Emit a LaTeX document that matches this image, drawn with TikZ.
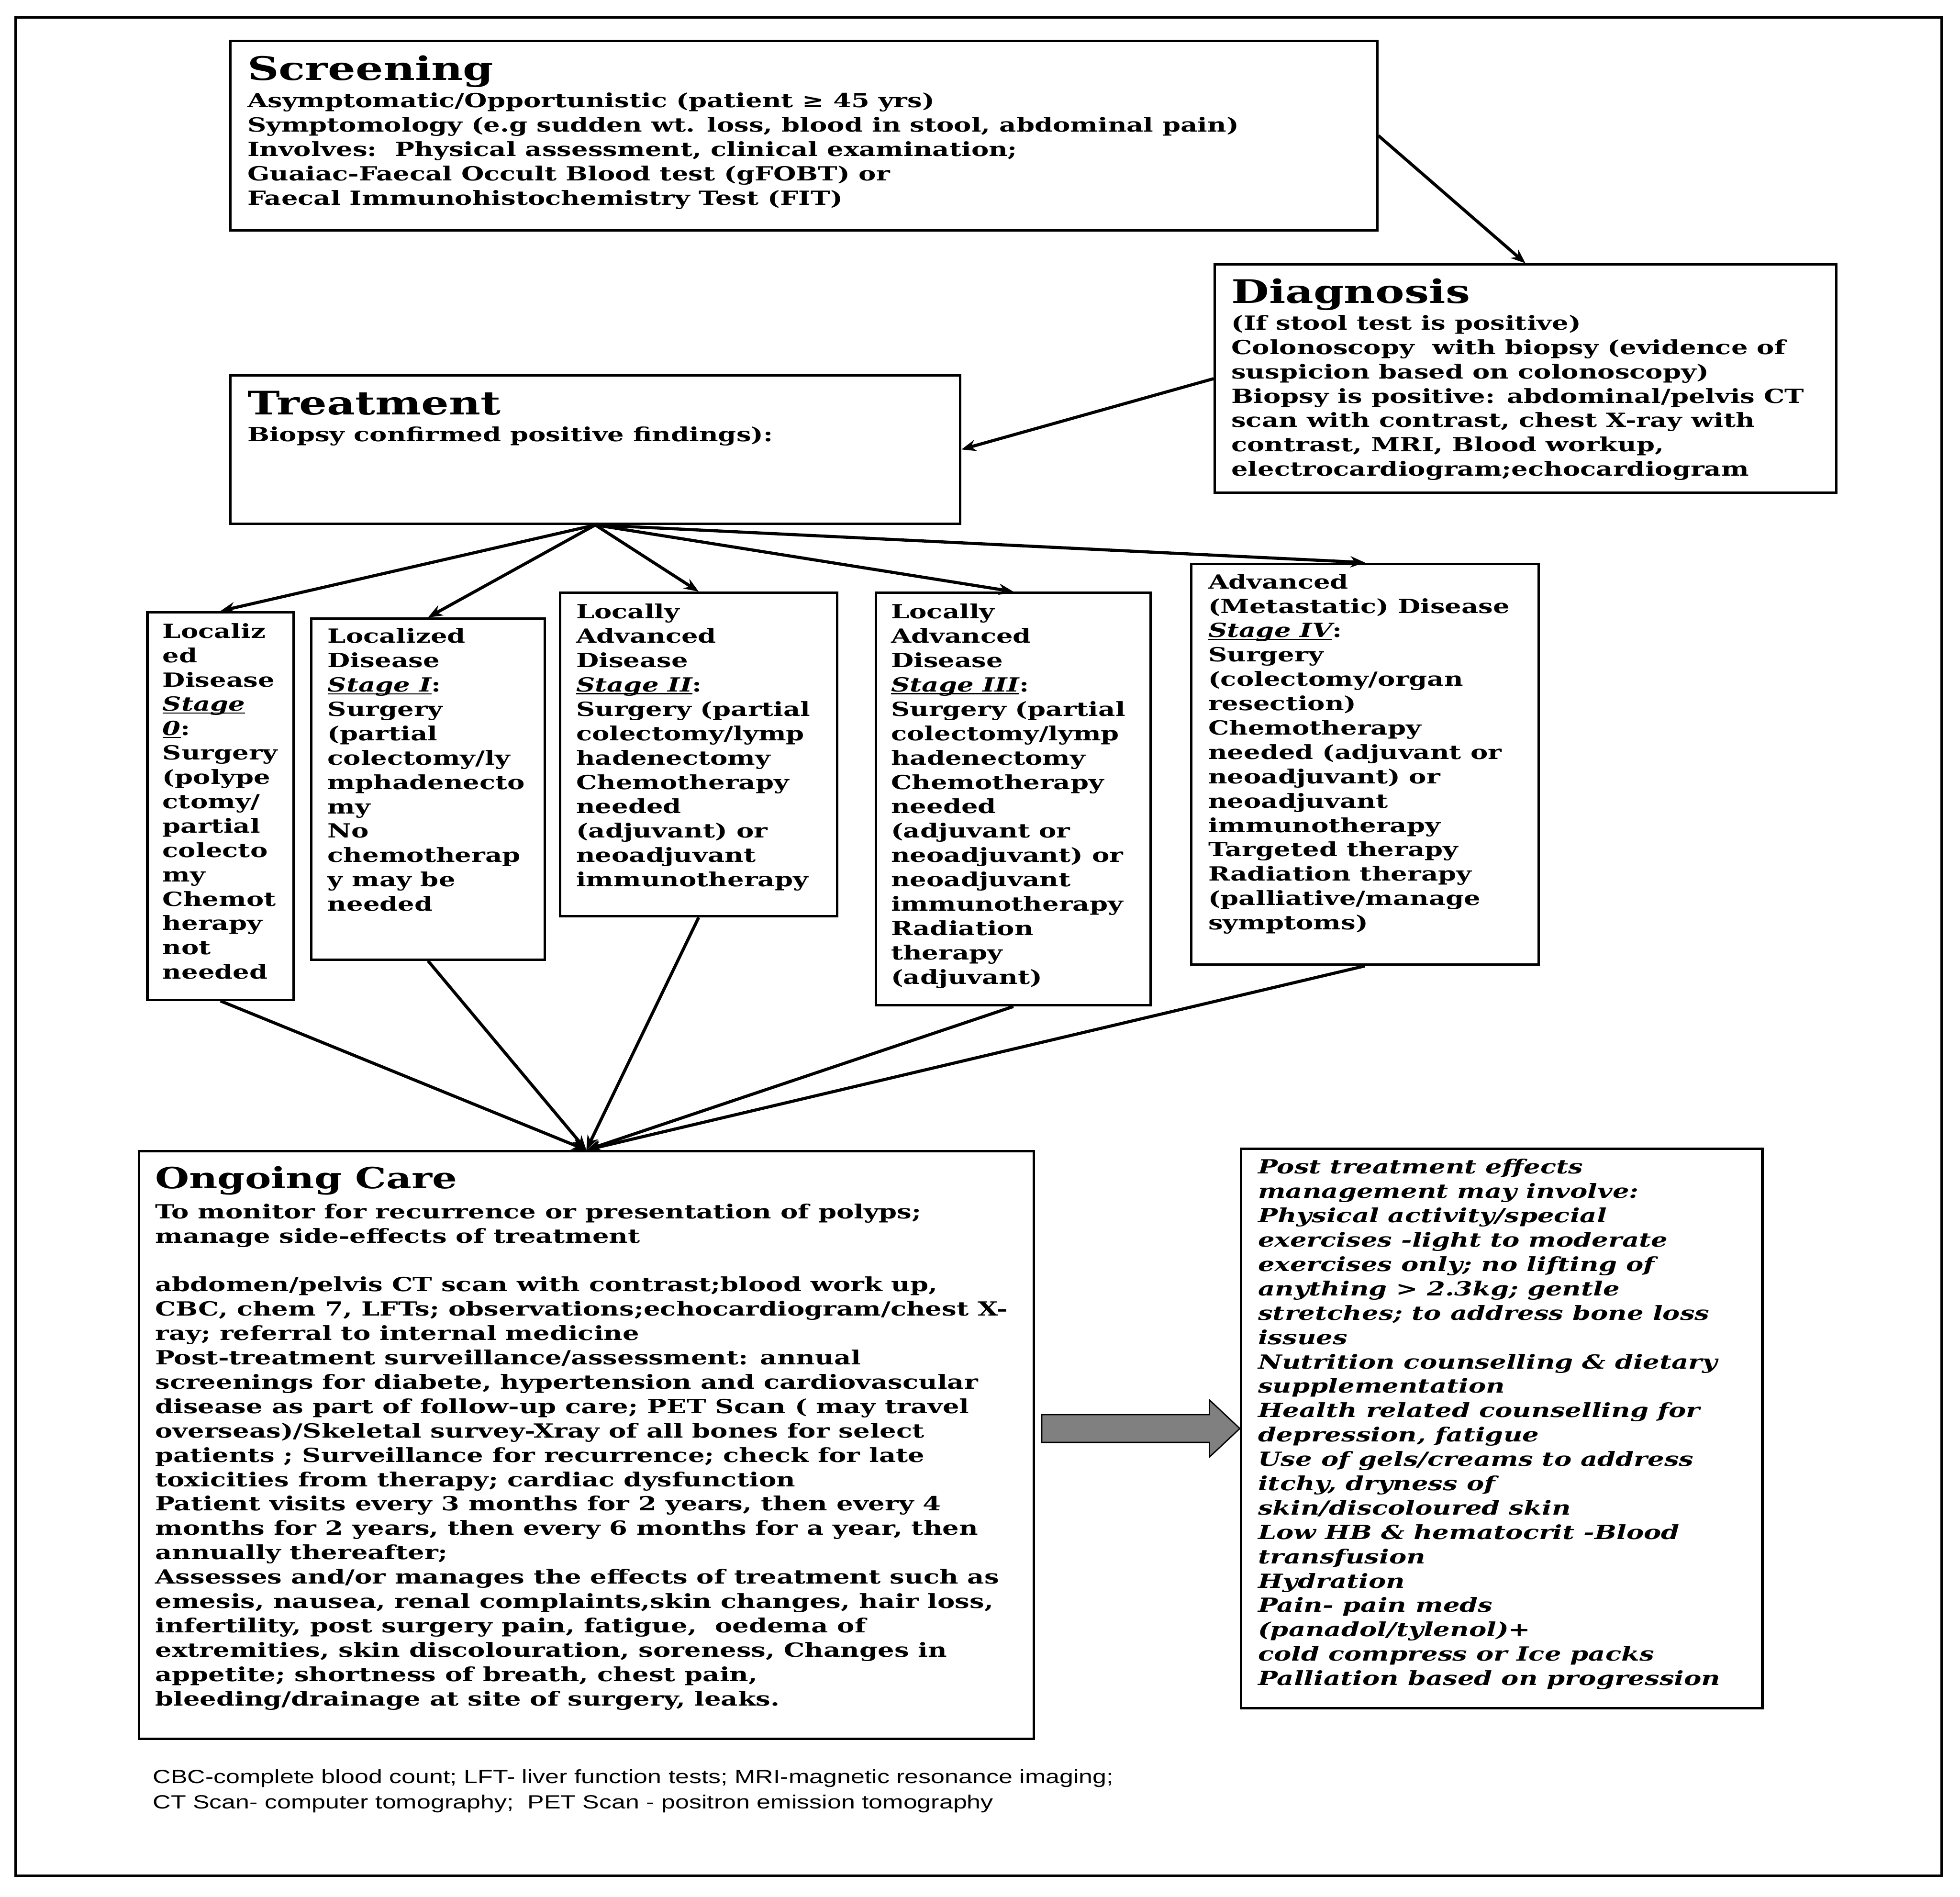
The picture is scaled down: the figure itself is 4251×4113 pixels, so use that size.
\documentclass[tikz,border=0pt]{standalone}
\usepackage{fontspec}
\setmainfont{DejaVu Serif}[FakeStretch=1.34]
\newfontfamily\notefont{Liberation Sans}[FakeStretch=1.3]
\usetikzlibrary{positioning, calc, arrows.meta}

% text sizes used inside the boxes
\newcommand{\bodysize}{\fontsize{12}{15.02}\selectfont\bfseries}
\newcommand{\headsize}{\fontsize{20}{24}\selectfont}
% underlined italic stage label
\newcommand{\stg}[1]{{\setbox0=\hbox{\itshape #1}\rlap{\rule[-1.6pt]{\wd0}{0.7pt}}\box0}}
% box text: width, height, left inset, first baseline, content
\newcommand{\boxtxt}[5]{\begin{minipage}[t][#2][t]{#1}\bodysize
  \leftskip=#3\rightskip=0pt plus 1fil\parfillskip=0pt plus 1fil
  \hyphenpenalty=10000\exhyphenpenalty=10000\rule{0pt}{#4}#5\end{minipage}}

\begin{document}
\begin{tikzpicture}[x=0.01cm, y=-0.01cm, >={Stealth[length=9pt,width=7pt]},
    box/.style={draw, line width=1.5pt, anchor=north west, inner sep=0pt},
    conn/.style={->, line width=1.9pt}]

    \useasboundingbox (0,0) rectangle (4251,4113);
    % --- Outer frame ---
    \draw[line width=1.5pt] (34,38) rectangle (4211,4068);

    % --- Screening and Diagnosis ---
    \node[box] (scr) at (497,86) {\boxtxt{24.86cm}{4.11cm}{0.37cm}{0.85cm}{%
        {\headsize Screening}\\[0.07cm]
        Asymptomatic/Opportunistic (patient ≥ 45 yrs)\\
        Symptomology (e.g sudden wt. loss, blood in stool, abdominal pain)\\
        Involves:\ \ Physical assessment, clinical examination;\\
        Guaiac-Faecal Occult Blood test (gFOBT) or\\
        Faecal Immunohistochemistry Test (FIT)}};

    \node[box] (diag) at (2632,571) {\boxtxt{13.47cm}{4.95cm}{0.36cm}{0.84cm}{%
        {\headsize Diagnosis}\\[0.05cm]
        (If stool test is positive)\\
        Colonoscopy\ \ with biopsy (evidence of\\
        suspicion based on colonoscopy)\\
        Biopsy is positive: abdominal/pelvis CT\\
        scan with contrast, chest X-ray with\\
        contrast, MRI, Blood workup,\\
        electrocardiogram;echocardiogram}};

    % --- Treatment ---
    \node[box] (treat) at (497,811) {\boxtxt{15.82cm}{3.22cm}{0.37cm}{0.86cm}{%
        {\headsize Treatment}\\[0.05cm]
        Biopsy confirmed positive findings):}};

    % --- Stage boxes ---
    \node[box] (st0) at (317,1325) {\boxtxt{3.17cm}{8.40cm}{0.33cm}{0.56cm}{%
        Localiz\\ed\\Disease\\\stg{Stage}\\\stg{0}:\\Surgery\\(polype\\ctomy/\\
        partial\\colecto\\my\\Chemot\\herapy\\not\\needed}};

    \node[box] (st1) at (672,1339) {\boxtxt{5.07cm}{7.39cm}{0.36cm}{0.53cm}{%
        Localized\\Disease\\\stg{Stage I}:\\Surgery\\(partial\\colectomy/ly\\
        mphadenecto\\my\\No\\chemotherap\\y may be\\needed}};

    \node[box] (st2) at (1212,1283) {\boxtxt{6.01cm}{7.01cm}{0.35cm}{0.56cm}{%
        Locally\\Advanced\\Disease\\\stg{Stage II}:\\Surgery (partial\\
        colectomy/lymp\\hadenectomy\\Chemotherapy\\needed\\(adjuvant) or\\
        neoadjuvant\\immunotherapy}};

    \node[box] (st3) at (1897,1283) {\boxtxt{5.96cm}{8.94cm}{0.33cm}{0.56cm}{%
        Locally\\Advanced\\Disease\\\stg{Stage III}:\\Surgery (partial\\
        colectomy/lymp\\hadenectomy\\Chemotherapy\\needed\\(adjuvant or\\
        neoadjuvant) or\\neoadjuvant\\immunotherapy\\Radiation\\therapy\\(adjuvant)}};

    \node[box] (st4) at (2581,1220) {\boxtxt{7.53cm}{8.69cm}{0.37cm}{0.54cm}{%
        Advanced\\(Metastatic) Disease\\\stg{Stage IV}:\\Surgery\\
        (colectomy/organ\\resection)\\Chemotherapy\\needed (adjuvant or\\
        neoadjuvant) or\\neoadjuvant\\immunotherapy\\Targeted therapy\\
        Radiation therapy\\(palliative/manage\\symptoms)}};

    % --- Ongoing care and post treatment effects ---
    \node[box] (ongo) at (299,2494) {\boxtxt{19.39cm}{12.74cm}{0.35cm}{0.81cm}{%
        {\fontsize{18}{22}\selectfont Ongoing Care}\\[0.12cm]
        To monitor for recurrence or presentation of polyps;\\
        manage side-effects of treatment\\
        \mbox{}\\
        abdomen/pelvis CT scan with contrast;blood work up,\\
        CBC, chem 7, LFTs; observations;echocardiogram/chest X-\\
        ray; referral to internal medicine\\
        Post-treatment surveillance/assessment: annual\\
        screenings for diabete, hypertension and cardiovascular\\
        disease as part of follow-up care; PET Scan ( may travel\\
        overseas)/Skeletal survey-Xray of all bones for select\\
        patients ; Surveillance for recurrence; check for late\\
        toxicities from therapy; cardiac dysfunction\\
        Patient visits every 3 months for 2 years, then every 4\\
        months for 2 years, then every 6 months for a year, then\\
        annually thereafter;\\
        Assesses and/or manages the effects of treatment such as\\
        emesis, nausea, renal complaints,skin changes, hair loss,\\
        infertility, post surgery pain, fatigue,\ \ oedema of\\
        extremities, skin discolouration, soreness, Changes in\\
        appetite; shortness of breath, chest pain,\\
        bleeding/drainage at site of surgery, leaks.}};

    \node[box] (post) at (2689,2489) {\boxtxt{11.30cm}{12.12cm}{0.37cm}{0.54cm}{%
        \itshape
        Post treatment effects\\
        management may involve:\\
        Physical activity/special\\
        exercises -light to moderate\\
        exercises only; no lifting of\\
        anything > 2.3kg; gentle\\
        stretches; to address bone loss\\
        issues\\
        Nutrition counselling \& dietary\\
        supplementation\\
        Health related counselling for\\
        depression, fatigue\\
        Use of gels/creams to address\\
        itchy, dryness of\\
        skin/discoloured skin\\
        Low HB \& hematocrit -Blood\\
        transfusion\\
        Hydration\\
        Pain- pain meds\\
        (panadol/tylenol)+\\
        cold compress or Ice packs\\
        Palliation based on progression}};

    % --- Footnote (anchored on its last line) ---
    \node[anchor=base west, inner sep=0pt, align=left,
          font=\notefont\fontsize{11.8}{15.4}\selectfont] (note) at (331,3922)
        {CBC-complete blood count; LFT- liver function tests; MRI-magnetic resonance imaging;\\
         CT Scan- computer tomography;\ \ PET Scan - positron emission tomography};

    % --- Connectors ---
    \draw[conn] (scr.east) -- (diag.north);
    \draw[conn] (diag.west) -- (treat.east);
    \foreach \s in {st0,st1,st2,st3,st4} {
        \draw[conn] (treat.south) -- (\s.north);
        \draw[conn] (\s.south) -- (ongo.north);
    }

    % block arrow to the post treatment box
    \draw[fill=black!50, line width=0.8pt]
        ($(ongo.east |- post.west)+(15,-30)$) -- ($(post.west)+(-66,-30)$)
        -- ($(post.west)+(-66,-62)$) -- (post.west) -- ($(post.west)+(-66,62)$)
        -- ($(post.west)+(-66,30)$) -- ($(ongo.east |- post.west)+(15,30)$) -- cycle;

\end{tikzpicture}
\end{document}
